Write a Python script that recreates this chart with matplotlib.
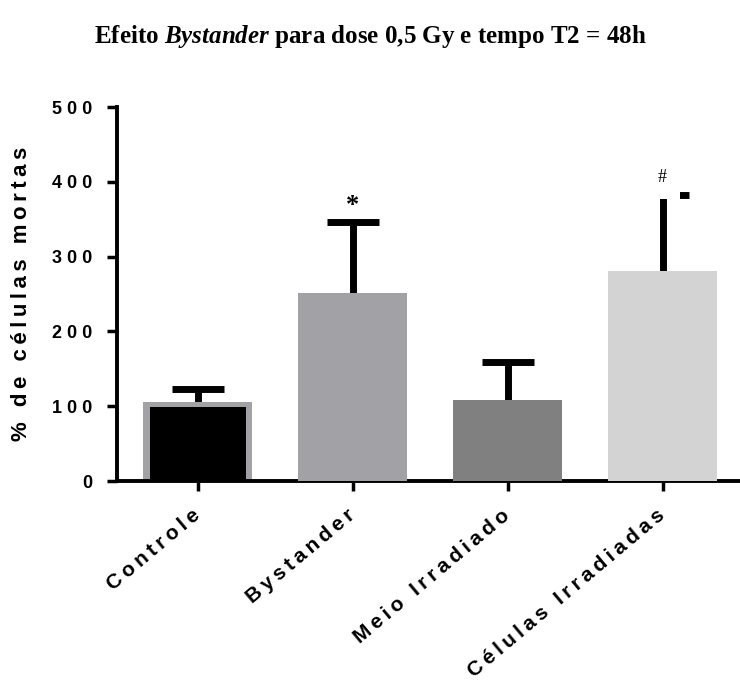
import numpy as np
import matplotlib
matplotlib.use("Agg")
import matplotlib.pyplot as plt
from matplotlib.patches import Rectangle

# % de células mortas, 0,5 Gy, T2 = 48h
grupos = ['Controle', 'Bystander', 'Meio Irradiado', 'Células Irradiadas']
medias = [99, 251, 108, 281]
desvios = [24, 95, 51, 101]
controle_fundo = 106          # barra cinza que ficou atrás do controle
cores = ['#000000', '#a1a1a6', '#808080', '#d3d3d3']
marcas = ['', '*', '', '#']
y_marcas = [0, 368, 0, 406]
y_ticks = [0, 100, 200, 300, 400, 500]

THIN = '\u2009'


def espacado(s, sep=THIN):
    # imita o espaçamento largo entre letras do Prism
    return (sep + ' ' + sep).join(sep.join(w) for w in s.split(' '))


plt.rcParams['font.family'] = ['Liberation Sans', 'DejaVu Sans']
plt.rcParams['mathtext.fontset'] = 'custom'
plt.rcParams['mathtext.it'] = 'Liberation Serif:italic:bold'
plt.rcParams['mathtext.rm'] = 'Liberation Serif:bold'

fig = plt.figure(figsize=(7.40, 6.82), dpi=100)
ax = fig.add_axes([117 / 740, 201 / 682, 623 / 740, 374 / 682])

x = np.arange(len(grupos))
larg = 0.70

# fundo cinza do controle + barras
ax.bar(x[0], controle_fundo, width=larg, color='#a1a1a6', zorder=2)
ax.bar(x[0], medias[0], width=0.62, color=cores[0], zorder=3)
ax.bar(x[1:], medias[1:], width=larg, color=cores[1:], zorder=3)

# barras de erro (só para cima)
topo = np.array(medias) + np.array(desvios)
ax.vlines(x, medias, topo, color='black', linewidth=5, zorder=1)
ax.plot(x, topo, linestyle='none', marker='_', markersize=37,
        markeredgewidth=5, color='black', zorder=1)

# pedaço do cap apagado em Células Irradiadas
ax.add_patch(Rectangle((x[3] - 0.168, 377), 0.278, 9.5, facecolor='white',
                       edgecolor='none', zorder=4))

for xi, m, ym in zip(x, marcas, y_marcas):
    if m == '*':
        ax.text(xi, ym, m, ha='center', va='center', family='Liberation Serif',
                fontweight='bold', fontsize=19)
    elif m:
        ax.text(xi, ym, m, ha='center', va='center', family='Liberation Serif',
                fontsize=13)

ax.set_xlim(-0.52, 3.5)
ax.set_ylim(0, 500)
ax.set_yticks(y_ticks)
ax.set_yticklabels([' '.join(str(v)) for v in y_ticks], fontsize=13,
                   fontweight='bold')
ax.set_xticks(x)
ax.set_xticklabels([espacado(g) for g in grupos], rotation=40, ha='right',
                   va='center', rotation_mode='anchor', fontsize=15,
                   fontweight='bold')

for s in ['top', 'right']:
    ax.spines[s].set_visible(False)
for s in ['left', 'bottom']:
    ax.spines[s].set_linewidth(2.8)
ax.tick_params(axis='both', width=2.5, length=7, direction='out')
ax.tick_params(axis='y', pad=11)
ax.tick_params(axis='x', pad=16)

ax.set_ylabel(espacado('% de células mortas'), fontsize=16, fontweight='bold')
ax.yaxis.set_label_coords(-95 / 623, 0.5)
ax.yaxis.label.set_va('center')

fig.text(0.5, 1 - 36 / 682,
         'Efeito $\\mathit{Bystander}$ para dose 0,5 Gy e tempo T2 = 48h',
         ha='center', va='center', family='Liberation Serif',
         fontweight='bold', fontsize=18)

fig.savefig('out.png', dpi=100)
